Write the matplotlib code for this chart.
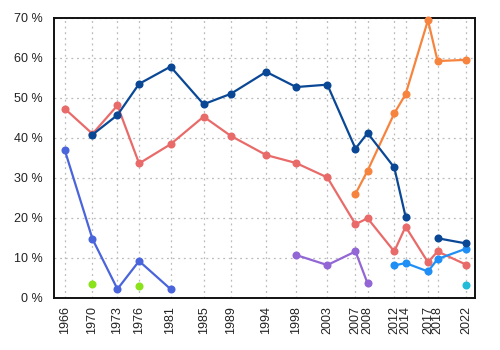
import numpy as np
import matplotlib
matplotlib.use("Agg")
import matplotlib.pyplot as plt
from matplotlib.ticker import FuncFormatter

plt.rcParams['font.family'] = ['Liberation Sans', 'DejaVu Sans']

# election labels and their (fractional-year) dates on the time axis
labels = ['1966', '1970', '1973', '1976', '1981', '1985', '1989', '1994', '1998',
          '2003', '2007', '2008', '2012', '2014', '2017', '2018', '2022']
dates = [1966.43, 1970.33, 1973.83, 1976.87, 1981.28, 1985.92, 1989.73, 1994.70,
         1998.91, 2003.28, 2007.23, 2008.93, 2012.67, 2014.26, 2017.40, 2018.75,
         2022.75]
nan = np.nan

s_darkblue = [nan, 40.8, 45.7, 53.5, 57.8, 48.4, 51.0, 56.5, 52.7, 53.3,
              37.3, 41.2, 32.6, 20.3, nan, 14.9, 13.6]
s_salmon = [47.3, 41.0, 48.1, 33.6, 38.4, 45.3, 40.5, 35.7, 33.7, 30.1,
            18.4, 19.9, 11.6, 17.8, 8.9, 11.6, 8.3]
s_royal = [37.0, 14.7, 2.2, 9.2, 2.2, nan, nan, nan, nan, nan,
           nan, nan, nan, nan, nan, nan, nan]
s_lime = [nan, 3.5, nan, 2.9, nan, nan, nan, nan, nan, nan,
          nan, nan, nan, nan, nan, nan, nan]
s_purple = [nan, nan, nan, nan, nan, nan, nan, nan, 10.7, 8.2,
            11.6, 3.6, nan, nan, nan, nan, nan]
s_orange = [nan, nan, nan, nan, nan, nan, nan, nan, nan, nan,
            26.0, 31.8, 46.1, 50.9, 69.4, 59.2, 59.5]
s_lightblue = [nan, nan, nan, nan, nan, nan, nan, nan, nan, nan,
               nan, nan, 8.1, 8.7, 6.6, 9.7, 12.3]
s_cyan = [nan, nan, nan, nan, nan, nan, nan, nan, nan, nan,
          nan, nan, nan, nan, nan, nan, 3.1]

series = [
    (s_royal, '#4a64dc'),
    (s_lime, '#8ae21a'),
    (s_purple, '#9266d4'),
    (s_salmon, '#e86b6a'),
    (s_orange, '#f7843e'),
    (s_lightblue, '#1f8ff5'),
    (s_cyan, '#22bbd8'),
    (s_darkblue, '#0a4896'),
]

fig = plt.figure(figsize=(5, 3.5), dpi=100)
ax = fig.add_axes([0.108, 0.149, 0.842, 0.8])

for vals, col in series:
    ax.plot(dates, vals, color=col, lw=1.6, marker='o', ms=5.8,
            markeredgewidth=0, zorder=3, clip_on=False)

ax.set_xlim(1964.93, 2024.0)
ax.set_ylim(0, 70)
ax.set_xticks(dates)
ax.set_xticklabels(labels, rotation=90, fontsize=9)
ax.set_yticks(range(0, 71, 10))
ax.yaxis.set_major_formatter(FuncFormatter(lambda v, p: f"{int(v)} %"))
ax.tick_params(axis='both', length=0, labelsize=9, colors='#222222')
ax.tick_params(axis='y', pad=8)
ax.tick_params(axis='x', pad=6)
ax.grid(True, color='#bbbbbb', linestyle=(0, (1.5, 3)), lw=0.9)
ax.set_axisbelow(True)
for sp in ax.spines.values():
    sp.set_color('#111111')
    sp.set_linewidth(1.4)

fig.savefig('out.png', dpi=100)
